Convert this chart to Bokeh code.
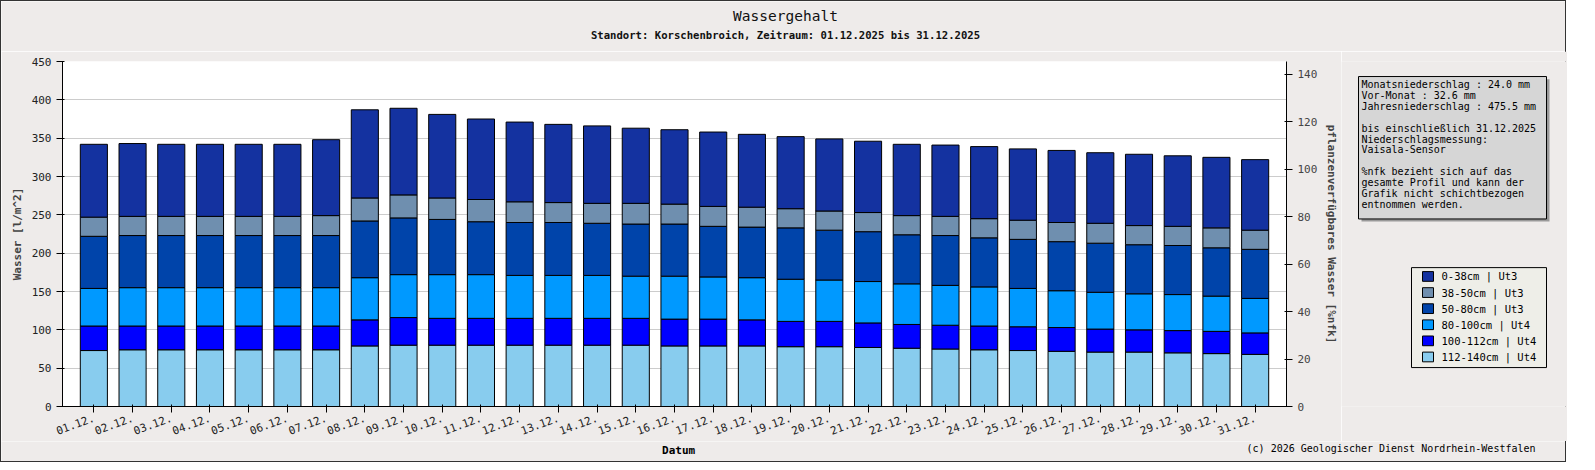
from bokeh.plotting import figure
from bokeh.models import Range1d, LinearAxis, FactorRange
from bokeh.layouts import column, row
from bokeh.core.properties import value
from bokeh.embed import file_html
from bokeh.resources import INLINE

days = [f"{d:02d}.12." for d in range(1, 32)]
# cumulative tops (l/m^2)
c1 = [73,74,74,74,74,74,74,79,80,80,80,80,80,80,80,79,79,79,78,78,77,76,75,74,73,72,71,71,70,69,68]
c2 = [105,105,105,105,105,105,105,113,116,115,115,115,115,115,115,114,114,113,111,111,109,107,106,105,104,103,101,100,99,98,96]
c3 = [154,155,155,155,155,155,155,168,172,172,172,171,171,171,170,170,169,168,166,165,163,160,158,156,154,151,149,147,146,144,141]
c4 = [222,223,223,223,223,223,223,242,246,244,241,240,240,239,238,238,235,234,233,230,228,224,223,220,218,215,213,211,210,207,205]
c5 = [247,248,248,248,248,248,249,272,276,272,270,267,266,265,265,264,261,260,258,255,253,249,248,245,243,240,239,236,235,233,230]
c6 = [342,343,342,342,342,342,348,387,389,381,375,371,368,366,363,361,358,355,352,349,346,342,341,339,336,334,331,329,327,325,322]

layers = ["112-140cm | Ut4", "100-112cm | Ut4", "80-100cm | Ut4", "50-80cm | Ut3", "38-50cm | Ut3", "0-38cm | Ut3"]
colors = ["#88CCEE", "#0000FF", "#0099FF", "#0044AA", "#6F8FAF", "#1432A0"]
tops = [c1, c2, c3, c4, c5, c6]

info_lines = ["Monatsniederschlag :   24.0 mm",
              "Vor-Monat          :   32.6 mm",
              "Jahresniederschlag :  475.5 mm",
              "",
              "bis einschließlich 31.12.2025",
              "Niederschlagsmessung:",
              "              Vaisala-Sensor",
              "",
              "   %nfk bezieht sich auf das",
              "  gesamte Profil und kann der",
              "  Grafik nicht schichtbezogen",
              "  entnommen werden."]

FONT = "DejaVu Sans Mono"
BG = "#EEEBEA"
W = 1566


def strip(w, h, y0, y1, x0=0):
    f = figure(width=w, height=h, x_range=Range1d(x0, x0 + w), y_range=Range1d(y1, y0),
               output_backend="svg", toolbar_location=None, x_axis_location=None, y_axis_location=None,
               min_border=0)
    f.min_border_left = f.min_border_right = f.min_border_top = f.min_border_bottom = 0
    f.background_fill_color = BG
    f.border_fill_color = BG
    f.outline_line_color = None
    f.grid.grid_line_color = None
    return f


# top strip (titles)
top = strip(W, 50, 0, 50)
top.text(x=[785], y=[14], text=["Wassergehalt"], text_font=value(FONT), text_font_size="14.5px",
         text_align="center", text_baseline="middle", text_color="#111111")
top.text(x=[785], y=[33], text=["Standort: Korschenbroich, Zeitraum: 01.12.2025 bis 31.12.2025"],
         text_font=value(FONT), text_font_size="10.6px", text_font_style="bold",
         text_align="center", text_baseline="middle", text_color="#111111")

# main chart
p = figure(width=1340, height=390, x_range=FactorRange(*days, range_padding=0.02), y_range=Range1d(0, 450),
           output_backend="svg", toolbar_location=None,
           min_border_left=61, min_border_right=42, min_border_top=10, min_border_bottom=28)
p.background_fill_color = "white"
p.border_fill_color = BG
p.outline_line_color = None

bottoms = [[0] * 31] + tops[:-1]
for i in range(6):
    p.vbar(x=days, bottom=bottoms[i], top=tops[i], width=0.7, fill_color=colors[i],
           line_color="black", line_width=1)

p.xgrid.grid_line_color = None
p.ygrid.grid_line_color = "#CCCCCC"
p.yaxis.ticker = list(range(0, 451, 50))
p.yaxis.minor_tick_line_color = "black"
for ax in [p.xaxis[0], p.yaxis[0]]:
    ax.major_label_text_font = FONT
    ax.major_label_text_font_size = "11px"
    ax.axis_label_text_font = FONT
    ax.axis_label_text_font_size = "11px"
    ax.axis_label_text_font_style = "bold"
    ax.major_label_text_color = "#222222"
p.yaxis.axis_label = "Wasser [l/m^2]"
p.xaxis.major_label_orientation = 0.35

p.extra_y_ranges = {"pct": Range1d(0, 145.4)}
ax2 = LinearAxis(y_range_name="pct", axis_label="pflanzenverfügbares Wasser [%nfk]",
                 ticker=list(range(0, 141, 20)))
ax2.major_label_text_font = FONT
ax2.major_label_text_font_size = "11px"
ax2.axis_label_text_font = FONT
ax2.axis_label_text_font_size = "11px"
ax2.axis_label_text_font_style = "bold"
p.add_layout(ax2, "right")

# side panel (info box + legend), coordinates = page pixels
side = strip(W - 1340, 390, 50, 440, x0=1340)
side.quad(left=[1360], right=[1548], top=[70], bottom=[231], fill_color="#999999", line_color=None)
side.quad(left=[1357], right=[1545], top=[67], bottom=[228], fill_color="#D6D6D6", line_color="black")
side.text(x=[1360] * len(info_lines), y=[70 + 12.3 * i for i in range(len(info_lines))], text=info_lines,
          text_font=value(FONT), text_font_size="10px", text_baseline="top", text_color="black")

side.quad(left=[1410], right=[1545], top=[283], bottom=[396], fill_color="#EEEEE8", line_color="black")
n = len(layers)
ly = [293 + 18.2 * k for k in range(n)]
rev_layers = layers[::-1]
rev_colors = colors[::-1]
side.quad(left=[1421] * n, right=[1432] * n, top=[y - 5.5 for y in ly], bottom=[y + 5.5 for y in ly],
          fill_color=rev_colors, line_color="black")
side.text(x=[1440] * n, y=ly, text=rev_layers, text_font=value(FONT), text_font_size="10.5px",
          text_baseline="middle", text_color="black")

# bottom strip
bot = strip(W, 20, 440, 460)
bot.text(x=[678], y=[449], text=["Datum"], text_font=value(FONT), text_font_size="11px",
         text_font_style="bold", text_align="center", text_baseline="middle", text_color="black")
bot.text(x=[1536], y=[447], text=["(c) 2026 Geologischer Dienst Nordrhein-Westfalen"], text_font=value(FONT),
         text_font_size="10px", text_align="right", text_baseline="middle", text_color="black")

lay = column(top, row(p, side, spacing=0), bot, spacing=0)
lay.styles = {"border": "1px solid #333333", "width": f"{W}px"}

open("out.html", "w").write(file_html(lay, INLINE))
